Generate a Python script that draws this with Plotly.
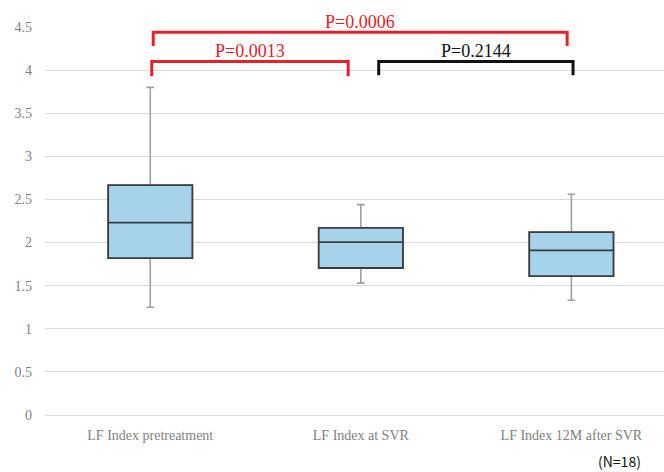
import plotly.graph_objects as go

# Box plot summary statistics for LF Index
categories = ["LF Index pretreatment", "LF Index at SVR", "LF Index 12M after SVR"]
q1 = [1.82, 1.705, 1.61]
median = [2.23, 2.005, 1.91]
q3 = [2.665, 2.17, 2.12]
lower_whisker = [1.25, 1.53, 1.33]
upper_whisker = [3.80, 2.44, 2.56]

y_ticks = [0, 0.5, 1, 1.5, 2, 2.5, 3, 3.5, 4, 4.5]

# Pairwise comparisons: (from index, to index, p-value label, colour, bracket top, leg bottom)
comparisons = [
    (0, 1, "P=0.0013", "#e8202a", 4.10, 3.93),
    (1, 2, "P=0.2144", "#111111", 4.10, 3.94),
    (0, 2, "P=0.0006", "#e8202a", 4.44, 4.28),
]

FILL = "#a5d3ec"
serif = "Liberation Serif, Times New Roman, serif"

fig = go.Figure()

# Whiskers + box (grey lines)
fig.add_trace(go.Box(
    x=categories, q1=q1, median=median, q3=q3,
    lowerfence=lower_whisker, upperfence=upper_whisker,
    fillcolor=FILL, line=dict(color="#a0a0a0", width=1.6),
    width=0.4, whiskerwidth=0.09, boxpoints=False,
    showlegend=False, hoverinfo="skip",
))
# Box outline with dark border
fig.add_trace(go.Box(
    x=categories, q1=q1, median=median, q3=q3,
    lowerfence=q1, upperfence=q3,
    fillcolor=FILL, line=dict(color="#3c3c3c", width=1.8),
    width=0.4, whiskerwidth=0.0, boxpoints=False,
    showlegend=False, hoverinfo="skip",
))

# Significance brackets
offsets = {(0, 1): (0.007, -0.06), (1, 2): (0.085, 0.008), (0, 2): (0.014, -0.02)}
for a, b, label, color, top, bottom in comparisons:
    dl, dr = offsets[(a, b)]
    xa, xb = a + dl, b + dr
    fig.add_shape(
        type="path",
        path=f"M {xa} {bottom} L {xa} {top} L {xb} {top} L {xb} {bottom}",
        xref="x", yref="y",
        line=dict(color=color, width=3),
    )
    fig.add_annotation(
        x=(xa + xb) / 2, y=top, xref="x", yref="y",
        text=label, showarrow=False, yanchor="bottom", yshift=-2,
        font=dict(family=serif, size=18, color=color),
    )

# Sample size note below the axis
fig.add_annotation(
    x=0.928, y=-0.119, xref="paper", yref="paper", text="(N=18)", showarrow=False,
    xanchor="center", yanchor="middle",
    font=dict(family="Noto Sans CJK JP, sans-serif", size=14, color="#111111"),
)

fig.update_layout(
    width=664, height=472,
    margin=dict(l=45, r=0, t=27, b=57),
    paper_bgcolor="white", plot_bgcolor="white",
    boxmode="overlay",
    showlegend=False,
)
fig.update_xaxes(
    type="category", range=[-0.5, 2.44],
    showgrid=False, showline=False, zeroline=False,
    tickfont=dict(family=serif, size=14, color="#7f7f7f"),
    ticklabelstandoff=10,
)
fig.update_yaxes(
    range=[0, 4.5], tickvals=y_ticks, ticktext=[f"{v:g}" for v in y_ticks],
    showgrid=True, gridcolor="#d9d9d9", gridwidth=1,
    zeroline=True, zerolinecolor="#d9d9d9", zerolinewidth=1,
    showline=False,
    tickfont=dict(family=serif, size=14, color="#7f7f7f"),
    ticklabelstandoff=12,
)

fig.write_html("out.html")
